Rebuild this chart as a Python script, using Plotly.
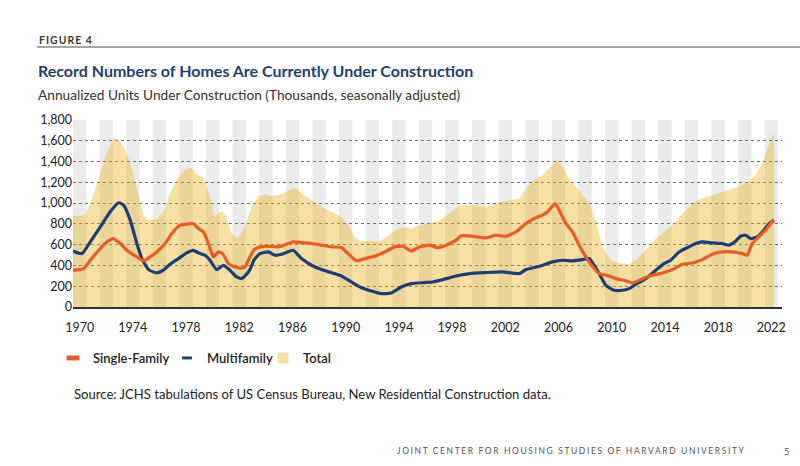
import plotly.graph_objects as go

# ---------------- data (thousands of units) ----------------
TOTAL_YEARS = [1970.0, 1970.5, 1970.9, 1971.3, 1972.0, 1972.55, 1973.05, 1973.4, 1973.8, 1974.3,
               1974.8, 1975.3, 1975.65, 1976.3, 1976.9, 1977.3, 1977.8, 1978.4, 1978.9, 1979.3,
               1979.8, 1980.3, 1980.6, 1980.9, 1981.2, 1981.55, 1981.9, 1982.4, 1982.9, 1983.43,
               1983.93, 1984.43, 1984.93, 1985.43, 1985.93, 1986.43, 1986.8, 1987.18, 1987.93, 1988.68,
               1989.43, 1990.18, 1990.68, 1991.18, 1991.55, 1992.18, 1992.93, 1993.43, 1994.18, 1994.93,
               1995.43, 1996.05, 1996.8, 1997.55, 1998.3, 1999.05, 1999.8, 2000.55, 2001.05, 2001.55,
               2002.3, 2003.05, 2003.55, 2004.05, 2004.68, 2005.3, 2005.93, 2006.35, 2006.8, 2007.3,
               2008.05, 2008.8, 2009.2, 2009.56, 2009.93, 2010.43, 2011.06, 2011.81, 2012.31, 2012.81,
               2013.56, 2014.31, 2015.06, 2015.81, 2016.56, 2017.06, 2017.81, 2018.56, 2019.31, 2020.06,
               2020.43, 2020.81, 2021.31, 2021.81, 2022.18, 2022.56, 2022.7]
TOTAL = [880, 877, 890, 1000, 1258, 1484, 1630, 1620, 1550, 1390,
         1130, 887, 840, 840, 935, 1100, 1226, 1320, 1340, 1275,
         1245, 1065, 870, 903, 920, 870, 710, 661, 770, 964,
         1061, 1086, 1067, 1077, 1100, 1141, 1141, 1093, 1029, 964,
         916, 868, 788, 675, 636, 636, 627, 659, 739, 771,
         755, 788, 804, 836, 900, 980, 980, 980, 964, 990,
         1013, 1029, 1045, 1141, 1221, 1270, 1350, 1414, 1350, 1238,
         1125, 996, 870, 700, 546, 450, 424, 411, 450, 514,
         627, 707, 788, 900, 990, 1035, 1067, 1099, 1125, 1157,
         1189, 1205, 1270, 1382, 1511, 1639, 1660]

SF_YEARS = [1970.0, 1970.8, 1971.3, 1972.05, 1972.55, 1973.05, 1973.55, 1974.05, 1974.8, 1975.3,
            1975.8, 1976.3, 1976.93, 1977.43, 1978.05, 1978.55, 1979.0, 1979.43, 1979.8, 1980.18,
            1980.55, 1980.93, 1981.25, 1981.68, 1982.18, 1982.68, 1982.93, 1983.3, 1983.6, 1983.93,
            1984.43, 1985.43, 1986.18, 1986.55, 1987.18, 1987.93, 1988.68, 1989.43, 1990.18, 1990.68,
            1991.3, 1991.93, 1992.68, 1993.43, 1994.18, 1994.8, 1995.43, 1996.05, 1996.8, 1997.43,
            1998.05, 1998.8, 1999.18, 2000.05, 2001.05, 2001.8, 2002.55, 2003.3, 2004.05, 2004.68,
            2005.3, 2005.68, 2006.25, 2006.55, 2007.05, 2007.55, 2008.05, 2008.8, 2009.55, 2010.31,
            2010.81, 2011.56, 2012.06, 2012.81, 2013.56, 2014.31, 2015.06, 2015.81, 2016.56, 2017.31,
            2018.06, 2018.81, 2019.56, 2020.31, 2020.68, 2021.06, 2021.56, 2022.06, 2022.56, 2022.7]
SINGLE_FAMILY = [354, 370, 450, 563, 627, 659, 611, 546, 482, 444,
                 482, 530, 611, 707, 788, 797, 804, 755, 723, 611,
                 482, 530, 514, 418, 386, 375, 386, 482, 550, 572,
                 585, 579, 611, 627, 620, 611, 595, 579, 572, 514,
                 444, 466, 489, 530, 579, 585, 540, 579, 595, 572,
                 595, 643, 685, 681, 665, 691, 681, 723, 804, 852,
                 884, 916, 996, 932, 804, 723, 595, 434, 321, 299,
                 273, 251, 231, 273, 305, 328, 360, 411, 424, 456,
                 508, 530, 530, 514, 498, 611, 675, 739, 820, 830]

MF_YEARS = [1970.0, 1970.68, 1971.3, 1972.05, 1972.8, 1973.43, 1973.8, 1974.3, 1974.8, 1975.18,
            1975.68, 1976.3, 1976.8, 1977.3, 1977.93, 1978.55, 1979.05, 1979.43, 1979.93, 1980.3,
            1980.8, 1981.3, 1981.8, 1982.3, 1982.68, 1982.93, 1983.3, 1983.6, 1984.05, 1984.68,
            1985.18, 1985.68, 1986.55, 1987.18, 1987.93, 1988.68, 1989.43, 1990.18, 1990.93, 1991.68,
            1992.43, 1993.18, 1993.93, 1994.68, 1995.43, 1996.43, 1997.05, 1998.05, 1998.8, 1999.8,
            2001.05, 2002.3, 2003.55, 2004.05, 2005.05, 2006.05, 2006.8, 2007.55, 2008.3, 2008.8,
            2009.18, 2009.56, 2010.06, 2010.68, 2011.31, 2011.81, 2012.31, 2013.06, 2013.81, 2014.43,
            2014.93, 2015.56, 2016.31, 2016.81, 2017.31, 2018.06, 2018.81, 2019.31, 2019.81, 2020.18,
            2020.56, 2020.93, 2021.43, 2021.93, 2022.35, 2022.7]
MULTIFAMILY = [540, 514, 627, 771, 916, 1003, 980, 836, 611, 466,
               360, 328, 354, 411, 466, 521, 546, 521, 498, 450,
               360, 402, 354, 289, 273, 300, 360, 450, 514, 530,
               498, 508, 546, 466, 402, 360, 331, 299, 241, 186,
               154, 129, 135, 193, 225, 235, 241, 273, 299, 321,
               331, 338, 321, 360, 392, 434, 450, 444, 456, 466,
               402, 321, 209, 161, 161, 177, 219, 273, 354, 418,
               450, 530, 579, 611, 627, 617, 611, 595, 633, 681,
               691, 659, 675, 739, 804, 836]

TICK_YEARS = [1970, 1974, 1978, 1982, 1986, 1990, 1994, 1998, 2002, 2006, 2010, 2014, 2018, 2022]
Y_TICKS = [0, 200, 400, 600, 800, 1000, 1200, 1400, 1600, 1800]

# ---------------- styling ----------------
FONT = "Lato"
ORANGE = "#EC5B26"
NAVY = "#1C3F73"
TAN_FILL = "rgba(234,176,19,0.39)"
TAN_LEGEND = "#F7DFA2"
STRIPE = "#EBEBEB"

L, R, T, B = 73, 18, 120, 159
W, H = 800, 466
PW, PH = W - L - R, H - T - B


def px(xp):
    return (xp - L) / PW


def py(yp):
    return (H - B - yp) / PH


fig = go.Figure()

fig.add_trace(go.Scatter(x=TOTAL_YEARS, y=TOTAL, mode="lines", fill="tozeroy",
                         fillcolor=TAN_FILL, line=dict(width=0, color=TAN_FILL),
                         showlegend=False, hoverinfo="skip"))
fig.add_trace(go.Scatter(x=MF_YEARS, y=MULTIFAMILY, mode="lines",
                         line=dict(color=NAVY, width=3.2, shape="spline", smoothing=0.5),
                         showlegend=False))
fig.add_trace(go.Scatter(x=SF_YEARS, y=SINGLE_FAMILY, mode="lines",
                         line=dict(color=ORANGE, width=3.2, shape="spline", smoothing=0.5),
                         showlegend=False))

# legend entries (one legend box each, so their spacing can follow the reference)
fig.add_trace(go.Scatter(x=[None], y=[None], mode="markers", name="Single-Family", legend="legend",
                         marker=dict(symbol="line-ew", size=9, line=dict(color=ORANGE, width=5))))
fig.add_trace(go.Scatter(x=[None], y=[None], mode="markers", name="Multifamily", legend="legend2",
                         marker=dict(symbol="line-ew", size=7, line=dict(color=NAVY, width=3))))
fig.add_trace(go.Scatter(x=[None], y=[None], mode="markers", name="Total", legend="legend3",
                         marker=dict(symbol="square", size=11, color=TAN_LEGEND, line=dict(width=0))))

shapes = []
for yr in range(1970, 2024, 2):
    shapes.append(dict(type="rect", xref="x", yref="paper", x0=yr, x1=yr + 1, y0=0, y1=1,
                       fillcolor=STRIPE, line=dict(width=0), layer="below"))
shapes.append(dict(type="line", xref="paper", yref="paper", x0=px(37), x1=px(800),
                   y0=py(47), y1=py(47), line=dict(color="#8a8a8a", width=1.5)))

annotations = [
    dict(text='<b><span style="letter-spacing:1px">FIGURE 4</span></b>', x=px(37), y=py(40),
         xanchor="left", yanchor="middle", font=dict(size=10.5, color="#3a3a3a", family=FONT)),
    dict(text="<b>Record Numbers of Homes Are Currently Under Construction</b>", x=px(36), y=py(70),
         xanchor="left", yanchor="middle", font=dict(size=16.0, color="#223F74", family=FONT)),
    dict(text="Annualized Units Under Construction (Thousands, seasonally adjusted)", x=px(36), y=py(94),
         xanchor="left", yanchor="middle", font=dict(size=13.7, color="#333333", family=FONT)),
    dict(text="Source: JCHS tabulations of US Census Bureau, New Residential Construction data.",
         x=px(72), y=py(394), xanchor="left", yanchor="middle",
         font=dict(size=13.1, color="#222222", family=FONT)),
    dict(text='<span style="letter-spacing:1.6px">JOINT CENTER FOR HOUSING STUDIES OF HARVARD UNIVERSITY</span>',
         x=px(395), y=py(451), xanchor="left", yanchor="middle",
         font=dict(size=8.5, color="#555555", family=FONT)),
    dict(text="5", x=px(786), y=py(451), xanchor="center", yanchor="middle",
         font=dict(size=9, color="#555555", family=FONT)),
]
for a in annotations:
    a.update(xref="paper", yref="paper", showarrow=False)

legend_common = dict(orientation="h", yanchor="middle", y=py(358), xanchor="left",
                     font=dict(size=13, color="#222222", family=FONT, weight=600),
                     itemwidth=30, bgcolor="rgba(0,0,0,0)", borderwidth=0)

fig.update_layout(
    width=W, height=H,
    margin=dict(l=L, r=R, t=T, b=B),
    paper_bgcolor="white", plot_bgcolor="white",
    font=dict(family=FONT, color="#333333", size=12.5),
    shapes=shapes, annotations=annotations,
    showlegend=True,
    legend=dict(legend_common, x=px(53)),
    legend2=dict(legend_common, x=px(167)),
    legend3=dict(legend_common, x=px(263)),
    xaxis=dict(range=[1970, 2023.3], tickvals=[y + 0.5 for y in TICK_YEARS],
               ticktext=[str(y) for y in TICK_YEARS], showgrid=False, zeroline=False,
               showline=True, linecolor="#333333", linewidth=2, ticks="",
               ticklabelstandoff=8, tickfont=dict(size=12.5, color="#222222")),
    yaxis=dict(range=[0, 1800], tickvals=Y_TICKS, tickformat=",", showgrid=True,
               gridcolor="#6e6e6e", griddash="dot", gridwidth=1, zeroline=False,
               showline=False, ticks="", tickfont=dict(size=12.5, color="#222222")),
)

fig.write_html("out.html", config={"displayModeBar": False},
               post_script="document.body.style.margin='0';document.body.style.padding='0';")
